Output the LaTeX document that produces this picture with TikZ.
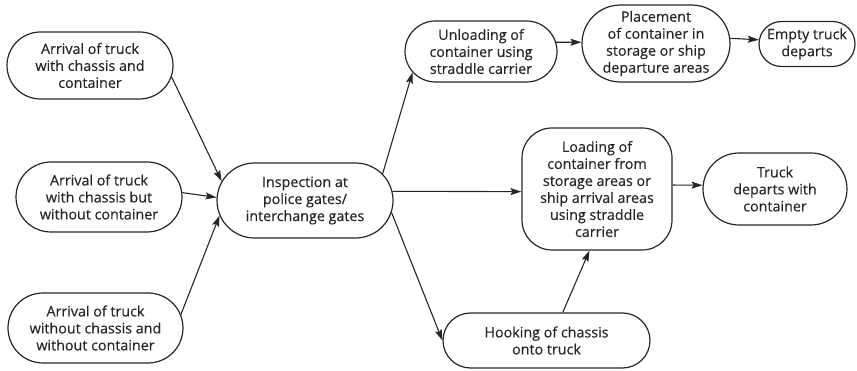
\documentclass[tikz,border=0pt]{standalone}
\usepackage{fontspec}
\setmainfont{Open Sans}
\newfontfamily\boxfont{Open Sans}[FakeBold=0.35]
\usetikzlibrary{arrows.meta,shapes.misc}
\definecolor{ink}{HTML}{262626}
\begin{document}
\begin{tikzpicture}[x=1pt,y=-1pt,
  every node/.style={font=\boxfont\fontsize{14.3}{17}\selectfont, text=ink, align=center},
  pill/.style={rounded rectangle, draw=ink, line width=1.2pt, inner sep=0pt},
  roundbox/.style={rectangle, rounded corners=30pt, draw=ink, line width=1.2pt, inner sep=0pt},
  flow/.style={draw=ink, line width=1.1pt, -{Stealth[length=11pt,width=7pt,inset=2pt]}}]
\useasboundingbox (0,0) rectangle (857,371);

% arrivals at the gate
\node[pill, minimum width=166pt, minimum height=67pt] (arrFull) at (90,65.5)
  {Arrival of truck\\with chassis and\\container};
\node[pill, minimum width=166pt, minimum height=70pt] (arrChassis) at (99,197)
  {Arrival of truck\\with chassis but\\without container};
\node[pill, minimum width=175pt, minimum height=70pt] (arrBare) at (95.5,328)
  {Arrival of truck\\without chassis and\\without container};

% gate inspection
\node[pill, minimum width=176pt, minimum height=75pt] (inspect) at (305,200.5)
  {Inspection at\\police gates/\\interchange gates};

% import branch
\node[pill, minimum width=152pt, minimum height=61pt] (unload) at (481,51.5)
  {Unloading of\\container using\\straddle carrier};
\node[pill, minimum width=148pt, minimum height=77pt] (place) at (656,43.5)
  {Placement\\of container in\\storage or ship\\departure areas};
\node[pill, minimum width=96pt, minimum height=45pt] (emptyOut) at (807,44)
  {Empty truck\\departs};

% export branch
\node[roundbox, minimum width=150pt, minimum height=122pt] (load) at (597,189)
  {Loading of\\container from\\storage areas or\\ship arrival areas\\using straddle\\carrier};
\node[pill, minimum width=144pt, minimum height=72pt] (fullOut) at (775,189)
  {Truck\\departs with\\container};
\node[pill, minimum width=207pt, minimum height=55pt] (hook) at (546.5,340.5)
  {Hooking of chassis\\onto truck};

% connectors
\draw[flow] (arrFull.-8) -- (inspect.167);
\draw[flow] (arrChassis.3) -- (inspect.178);
\draw[flow] (arrBare.9) -- (inspect.-170);
\draw[flow] (inspect.19) -- (unload.197);
\draw[flow] (inspect.6) -- (load.182);
\draw[flow] (inspect.-8) -- (hook.west);
\draw[flow] (hook.60) -- (load.263);
\draw[flow] (unload.7) -- (place.179);
\draw[flow] (place.4) -- (emptyOut.175);
\draw[flow] (load.3) -- (fullOut.177);
\end{tikzpicture}
\end{document}
